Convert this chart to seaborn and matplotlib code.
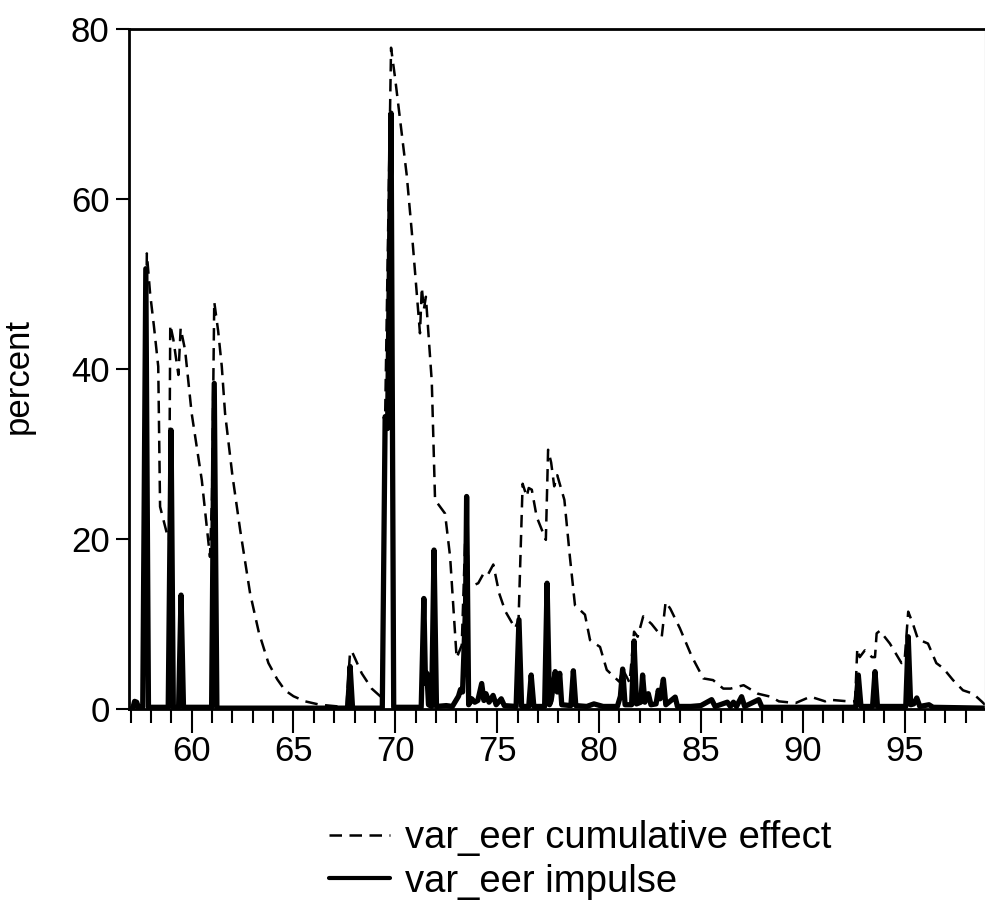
import matplotlib
matplotlib.use("Agg")
import matplotlib.pyplot as plt
from matplotlib.ticker import MultipleLocator
from matplotlib.lines import Line2D
import seaborn as sns

# var_eer cumulative effect (dashed)
cum_x = [56.9, 57.15, 57.3, 57.45, 57.6, 57.7, 57.8, 57.96, 58.15, 58.36, 58.45,
         58.78, 58.89, 58.95, 59.1, 59.35, 59.46, 59.68, 60.0, 60.5, 60.9, 61.0,
         61.11, 61.3, 61.48, 61.64, 62.0, 62.38, 62.87, 63.3, 63.77, 64.2, 64.58,
         65.0, 65.57, 66.3, 67.2, 67.6, 67.78, 67.9, 68.35, 68.84, 69.33, 69.5,
         69.79, 69.99, 70.56, 70.81, 71.21, 71.3, 71.4, 71.5, 71.79, 71.95, 72.44,
         72.69, 73.01, 73.26, 73.5, 73.6, 74.07, 74.3, 74.5, 74.81, 75.1, 75.4,
         75.88, 76.05, 76.25, 76.45, 76.55, 76.7, 76.94, 77.39, 77.5, 77.65, 77.8,
         77.95, 78.3, 78.57, 78.82, 79.31, 79.56, 80.05, 80.38, 81.0, 81.16, 81.5,
         81.72, 81.9, 82.17, 82.58, 83.08, 83.27, 83.5, 83.97, 84.55, 85.12, 85.6,
         86.1, 86.46, 87.1, 87.8, 88.42, 88.83, 89.65, 90.38, 91.1, 91.26, 92.24,
         92.57, 92.68, 92.8, 93.05, 93.4, 93.55, 93.63, 93.79, 94.28, 94.85, 95.0,
         95.18, 95.4, 95.66, 96.15, 96.56, 96.9, 97.38, 97.87, 98.37, 98.78, 98.95]
cum_y = [0.0, 0.3, 0.9, 0.3, 0.6, 30.0, 53.6, 48.9, 45.0, 40.3, 23.8,
         20.7, 19.9, 45.2, 43.5, 39.3, 44.8, 42.2, 34.8, 26.9, 17.9, 25.0,
         47.9, 44.5, 40.3, 34.8, 27.5, 21.1, 13.6, 9.0, 5.4, 3.5, 2.2,
         1.5, 0.9, 0.5, 0.3, 0.3, 6.8, 6.6, 4.2, 2.4, 1.35, 34.4,
         77.8, 74.2, 62.8, 56.1, 44.2, 49.6, 47.0, 48.5, 38.5, 24.6, 23.0,
         17.9, 6.0, 7.5, 25.1, 14.3, 14.8, 15.8, 15.6, 17.0, 13.6, 11.5,
         9.5, 10.5, 26.5, 25.0, 26.0, 25.8, 22.6, 19.9, 30.5, 29.0, 26.2,
         27.5, 24.6, 17.9, 12.2, 11.1, 8.1, 7.3, 4.6, 3.2, 4.7, 3.1,
         9.1, 8.5, 10.9, 10.0, 8.5, 12.6, 11.8, 9.5, 6.2, 3.6, 3.4,
         2.4, 2.4, 2.8, 1.8, 1.45, 0.9, 0.7, 1.45, 0.9, 1.1, 0.9,
         0.9, 7.1, 6.1, 6.9, 6.1, 6.1, 8.9, 9.2, 7.7, 5.4, 5.6,
         11.45, 10.1, 8.2, 7.7, 5.4, 4.8, 3.4, 2.2, 1.8, 0.9, 0.5]

# var_eer impulse (solid)
imp_x = [56.9, 57.1, 57.2, 57.3, 57.4, 57.6, 57.75, 57.88, 58.85, 58.99, 59.1,
         59.36, 59.48, 59.6, 60.98, 61.11, 61.24, 67.66, 67.78, 67.9, 69.36,
         69.5, 69.62, 69.79, 69.92, 71.27, 71.4, 71.48, 71.55, 71.63, 71.78, 71.9,
         72.02, 72.5, 72.8, 73.1, 73.2, 73.3, 73.45, 73.5, 73.6, 73.75, 73.9,
         74.05, 74.24, 74.35, 74.45, 74.6, 74.8, 74.95, 75.2, 75.35, 75.93, 76.07,
         76.2, 76.55, 76.67, 76.8, 77.33, 77.45, 77.57, 77.65, 77.85, 77.95,
         78.07, 78.17, 78.62, 78.74, 78.86, 79.4, 79.75, 80.2, 80.9, 81.05, 81.16,
         81.28, 81.6, 81.72, 81.84, 82.05, 82.14, 82.25, 82.42, 82.55, 82.8,
         82.91, 83.0, 83.16, 83.28, 83.74, 83.85, 84.5, 85.0, 85.53, 85.7, 86.3,
         86.45, 86.6, 86.75, 87.0, 87.15, 87.84, 88.0, 92.6, 92.73, 92.86, 93.43,
         93.55, 93.67, 95.06, 95.18, 95.3, 95.45, 95.6, 95.75, 96.2, 96.4, 98.95]
imp_y = [0.0, 0.0, 0.9, 0.8, 0.1, 0.2, 51.8, 0.2, 0.2, 32.8, 0.2,
         0.2, 13.4, 0.2, 0.2, 38.3, 0.1, 0.1, 5.0, 0.1, 0.1,
         34.4, 33.0, 70.1, 0.2, 0.2, 13.0, 3.0, 4.2, 0.5, 0.3, 18.7,
         0.3, 0.4, 0.3, 1.5, 2.3, 2.0, 12.3, 25.0, 0.5, 1.2, 0.8,
         1.0, 3.0, 1.0, 1.8, 0.8, 1.6, 0.5, 1.2, 0.4, 0.3, 10.5,
         0.3, 0.3, 4.0, 0.3, 0.3, 14.8, 0.5, 1.0, 4.4, 2.0,
         4.2, 0.5, 0.4, 4.5, 0.4, 0.3, 0.6, 0.3, 0.3, 1.5, 4.7,
         0.5, 0.5, 8.0, 0.6, 0.8, 4.0, 0.8, 1.8, 0.5, 0.6,
         2.2, 1.2, 3.5, 0.5, 1.4, 0.3, 0.3, 0.4, 1.1, 0.3, 0.8,
         0.3, 0.8, 0.3, 1.45, 0.3, 1.1, 0.2, 0.2, 4.0, 0.3, 0.3,
         4.4, 0.3, 0.3, 8.5, 0.5, 0.6, 1.3, 0.3, 0.5, 0.2, 0.1]

y_ticks = [0, 20, 40, 60, 80]
labels = ["var_eer cumulative effect", "var_eer impulse"]

sns.set_theme(style="ticks", rc={"text.color": "black", "axes.labelcolor": "black",
                                 "xtick.color": "black", "ytick.color": "black",
                                 "axes.edgecolor": "black"})
plt.rcParams["font.family"] = ["Liberation Sans", "DejaVu Sans"]

fig = plt.figure(figsize=(9.85, 9.05), dpi=100)
ax = fig.add_axes([128.5 / 985, 196 / 905, 1 - 128.5 / 985, (709 - 29) / 905])

dash = (0, (5, 3))
sns.lineplot(x=cum_x, y=cum_y, ax=ax, color="black", lw=1.8, linestyle=dash,
             estimator=None, sort=False)
sns.lineplot(x=imp_x, y=imp_y, ax=ax, color="black", lw=3.8,
             estimator=None, sort=False)

ax.set_xlim(56.9, 98.95)
ax.set_ylim(0, 80)
ax.set_yticks(y_ticks)
ax.xaxis.set_major_locator(MultipleLocator(5))
ax.xaxis.set_minor_locator(MultipleLocator(1))
ax.tick_params(axis="both", which="major", direction="out", width=1.5,
               labelsize=25)
ax.tick_params(axis="x", which="major", length=17, pad=2)
ax.tick_params(axis="x", which="minor", length=10, width=1.5, direction="out")
ax.tick_params(axis="y", which="major", length=9.5, pad=4)
for s in ax.spines.values():
    s.set_linewidth(2.0)
ax.spines["right"].set_color("0.85")
ax.spines["right"].set_linewidth(1.0)

ax.set_xlabel("")
ax.set_ylabel("percent", fontsize=25)
ax.yaxis.set_label_coords(-0.109, 0.49)

handles = [Line2D([], [], color="black", lw=1.8, linestyle=dash),
           Line2D([], [], color="black", lw=3.0)]
fig.legend(handles, labels, loc="upper left",
           bbox_to_anchor=(329 / 985, 1 - 820 / 905), frameon=False,
           fontsize=27.5, handlelength=1.6, handletextpad=0.4,
           borderpad=0, borderaxespad=0, labelspacing=0.2)

fig.savefig("out.png", dpi=100)
